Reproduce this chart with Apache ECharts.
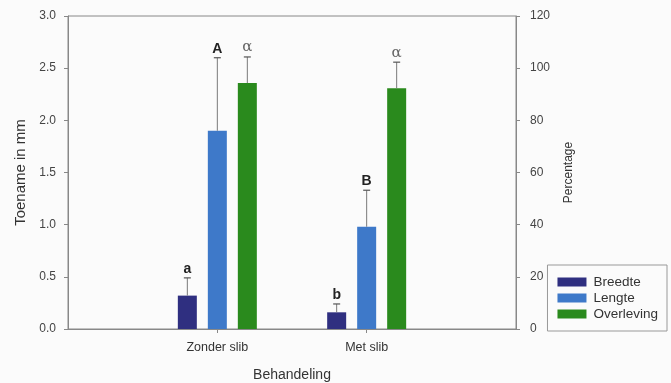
<!DOCTYPE html>
<html><head><meta charset="utf-8">
<script src="https://cdn.jsdelivr.net/npm/echarts@6/dist/echarts.min.js"></script>
<style>html,body{margin:0;padding:0;background:#fbfbfb}#c{width:671px;height:383px}</style>
</head><body><div id="c"></div>
<script>
const categories = ['Zonder slib', 'Met slib'];
const breedte = [0.32, 0.16];
const breedteErr = [0.17, 0.08];
const breedteLbl = ['a', 'b'];
const lengte = [1.90, 0.98];
const lengteErr = [0.70, 0.35];
const lengteLbl = ['A', 'B'];
const overleving = [94.3, 92.3];
const overlevingErr = [10.0, 10.0];
const overlevingLbl = ['α', 'α'];
const leftTicks = [0, 0.5, 1.0, 1.5, 2.0, 2.5, 3.0];
const rightTicks = [0, 20, 40, 60, 80, 100, 120];

const axisCats = [''].concat(categories, ['']);
const pad = arr => [null].concat(arr, [null]);
const colors = ['#2f2f80', '#3e79c9', '#2a8a1d'];
const BW = 19, GAP = 11;
const FF = 'Arial, "Liberation Sans", sans-serif';

function errSeries(vals, errs, lbls, idx, yAxisIndex, lblFont) {
  const data = vals.map((v, i) => [i + 1, v, v + errs[i], lbls[i]]);
  return {
    type: 'custom', yAxisIndex: yAxisIndex, z: 5, silent: true,
    data: data,
    renderItem: function (params, api) {
      const off = (idx - 1) * (BW + GAP);
      const p0 = api.coord([api.value(0), api.value(1)]);
      const p1 = api.coord([api.value(0), api.value(2)]);
      const x = p0[0] + off;
      return {
        type: 'group', children: [
          { type: 'line', shape: { x1: x, y1: p0[1], x2: x, y2: p1[1] }, style: { stroke: '#7a7a7a', lineWidth: 1 } },
          { type: 'line', shape: { x1: x - 3.5, y1: p1[1], x2: x + 3.5, y2: p1[1] }, style: { stroke: '#555', lineWidth: 1.2 } },
          { type: 'text', x: x, y: p1[1] - 2, style: Object.assign({ text: lbls[params.dataIndex], align: 'center', verticalAlign: 'bottom' }, lblFont) }
        ]
      };
    }
  };
}

const chart = echarts.init(document.getElementById('c'));
const latinFont = { font: 'bold 14px Arial, "Liberation Sans", sans-serif', fill: '#222' };
const greekFont = { font: '15px "DejaVu Serif", serif', fill: '#666' };
chart.setOption({
  backgroundColor: '#fbfbfb',
  animation: false,
  grid: { left: 68, right: 155, top: 16, bottom: 54, show: true, borderColor: '#888', borderWidth: 1, backgroundColor: 'transparent', containLabel: false, outerBoundsMode: 'none' },
  legend: {
    orient: 'vertical', right: 4, top: 265,
    data: ['Breedte', 'Lengte', 'Overleving'],
    itemWidth: 29, itemHeight: 9, itemGap: 2,
    padding: [10, 9, 10, 10],
    borderColor: '#999', borderWidth: 1,
    textStyle: { fontFamily: FF, fontSize: 13.5, color: '#333', padding: [0, 0, 0, 2] },
    icon: 'rect'
  },
  xAxis: {
    type: 'category', data: axisCats, boundaryGap: false,
    name: 'Behandeling', nameLocation: 'middle', nameGap: 39,
    nameTextStyle: { fontFamily: FF, fontSize: 14, color: '#333' },
    axisLine: { lineStyle: { color: '#888' } },
    axisTick: { show: true, inside: false, length: 4, interval: (i) => i > 0 && i < axisCats.length - 1, lineStyle: { color: '#888' } },
    axisLabel: { interval: 0, fontFamily: FF, fontSize: 12.5, color: '#333', margin: 12 },
    splitLine: { show: false }
  },
  yAxis: [{
    type: 'value', min: leftTicks[0], max: leftTicks[leftTicks.length - 1], interval: 0.5,
    name: 'Toename in mm', nameLocation: 'middle', nameGap: 40, nameRotate: 90,
    nameTextStyle: { fontFamily: FF, fontSize: 15, color: '#333' },
    axisLine: { show: true, lineStyle: { color: '#888' } },
    axisTick: { show: true, length: 4, lineStyle: { color: '#888' } },
    axisLabel: { formatter: v => v.toFixed(1), fontFamily: FF, fontSize: 12, color: '#444', margin: 12 },
    splitLine: { show: false }
  }, {
    type: 'value', min: rightTicks[0], max: rightTicks[rightTicks.length - 1], interval: 20, position: 'right',
    name: 'Percentage', nameLocation: 'middle', nameGap: 47, nameRotate: 90,
    nameTextStyle: { fontFamily: FF, fontSize: 12, color: '#333' },
    axisLine: { show: true, lineStyle: { color: '#888' } },
    axisTick: { show: true, length: 4, lineStyle: { color: '#888' } },
    axisLabel: { fontFamily: FF, fontSize: 12, color: '#444', margin: 14 },
    splitLine: { show: false }
  }],
  series: [
    { name: 'Breedte', type: 'bar', yAxisIndex: 0, data: pad(breedte), barWidth: BW, barGap: (GAP / BW * 100) + '%', itemStyle: { color: colors[0] } },
    { name: 'Lengte', type: 'bar', yAxisIndex: 0, data: pad(lengte), barWidth: BW, itemStyle: { color: colors[1] } },
    { name: 'Overleving', type: 'bar', yAxisIndex: 1, data: pad(overleving), barWidth: BW, itemStyle: { color: colors[2] } },
    errSeries(breedte, breedteErr, breedteLbl, 0, 0, latinFont),
    errSeries(lengte, lengteErr, lengteLbl, 1, 0, latinFont),
    errSeries(overleving, overlevingErr, overlevingLbl, 2, 1, greekFont)
  ]
});
</script></body></html>
